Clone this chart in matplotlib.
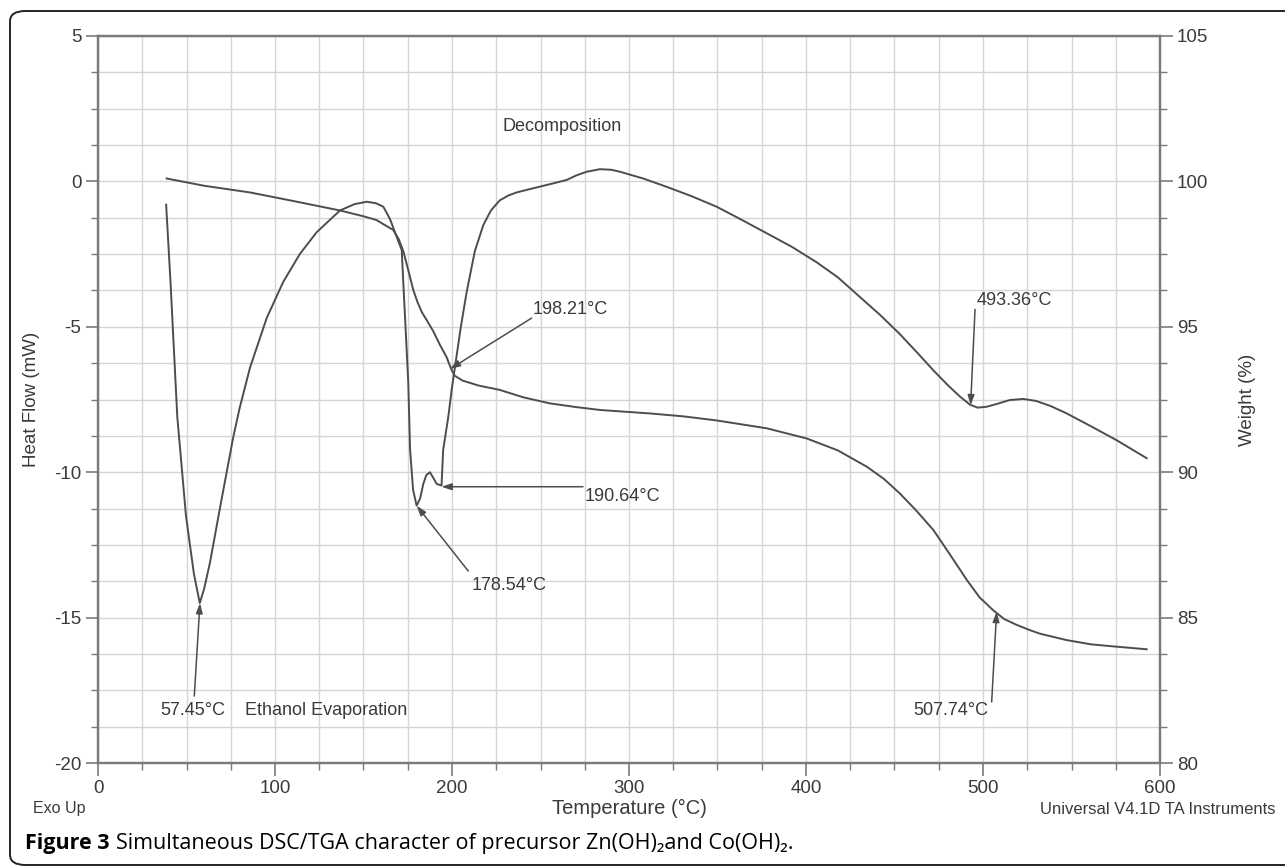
import matplotlib
matplotlib.use("Agg")
import matplotlib.pyplot as plt
from matplotlib.patches import FancyBboxPatch
from matplotlib.ticker import MultipleLocator

plt.rcParams['font.family'] = ['Liberation Sans', 'DejaVu Sans']
plt.rcParams['axes.unicode_minus'] = False

# DSC heat flow curve (mW) vs temperature (°C)
dsc_temp = [38.5, 41.0, 44.8, 49.7, 54.2, 57.5, 60, 63.3, 66, 69, 72.7, 76.4, 80,
            85.9, 95.3, 104.7, 114, 123.5, 136.7, 145, 151.8, 157, 161.2, 165, 168.7,
            171.6, 172.5, 174.4, 175.3, 176.3, 178, 180, 182, 183.8, 185.5, 187.5,
            189.5, 191.3, 194.1, 195, 197.9, 199.8, 201.7, 205, 208.3, 212.9, 217.7,
            222, 227, 232, 236.5, 243, 249.7, 257, 264.8, 270, 276, 283.6, 290, 295,
            308, 321, 335, 349.5, 363, 377.7, 392, 406, 418, 430, 442, 453, 463, 472,
            480, 487, 492.7, 497, 502, 508, 515, 522.8, 530, 538, 547, 561, 575.5, 592.5]
dsc_flow = [-0.8, -3.5, -8.1, -11.5, -13.5, -14.5, -14.0, -13.1, -12.2, -11.2, -10.0, -8.8, -7.8,
            -6.4, -4.7, -3.45, -2.5, -1.75, -1.0, -0.78, -0.7, -0.75, -0.87, -1.3, -1.9,
            -2.36, -3.5, -5.8, -6.94, -9.2, -10.6, -11.15, -10.9, -10.4, -10.1, -10.0,
            -10.2, -10.4, -10.46, -9.24, -8.1, -7.17, -6.37, -5.0, -3.8, -2.4, -1.5,
            -1.0, -0.65, -0.48, -0.38, -0.28, -0.18, -0.07, 0.05, 0.2, 0.33, 0.42, 0.4, 0.33,
            0.1, -0.18, -0.5, -0.87, -1.3, -1.78, -2.25, -2.78, -3.3, -3.95, -4.6, -5.25, -5.9, -6.5,
            -7.0, -7.4, -7.68, -7.78, -7.75, -7.65, -7.52, -7.48, -7.55, -7.72, -7.97, -8.42, -8.9, -9.52]

# TGA weight curve (%) vs temperature (°C)
tga_temp = [38.8, 60, 85.9, 110, 136.7, 150, 157.4, 162, 166.8, 170, 172.5, 175.5, 178.2,
            180.5, 183, 186, 189.4, 193, 197, 199.5, 201.5, 206, 215, 227, 240, 255, 270,
            283.6, 311.9, 330.7, 349.5, 377.8, 400.4, 418, 434.3, 444, 453, 462, 472, 481, 490.8,
            498, 505.8, 512, 519, 526, 532, 547, 561, 575.5, 592.5]
tga_weight = [100.1, 99.85, 99.62, 99.33, 99.0, 98.8, 98.67, 98.5, 98.33, 98.0, 97.6, 96.9, 96.25,
              95.85, 95.5, 95.2, 94.85, 94.4, 93.95, 93.55, 93.32, 93.15, 92.98, 92.83, 92.58, 92.37,
              92.24, 92.14, 92.02, 91.92, 91.78, 91.51, 91.16, 90.75, 90.19, 89.77, 89.27, 88.7, 88.01,
              87.2, 86.3, 85.7, 85.25, 84.95, 84.75, 84.58, 84.45, 84.23, 84.08, 84.0, 83.91]

# peak annotations: label, arrow tip (x, heat flow), arrow tail, text position
ann_labels = ['57.45°C', '178.54°C', '190.64°C', '198.21°C', '493.36°C', '507.74°C']
ann_tip = [(57.6, -14.5), (180, -11.15), (194, -10.5), (198.9, -6.45), (493, -7.7), (507.7, -14.8)]
ann_tail = [(54.4, -17.7), (209.2, -13.4), (274, -10.5), (245, -4.7), (495.5, -4.4), (504.9, -17.9)]
ann_text = [(35, -18.2), (211, -13.9), (275, -10.85), (245.8, -4.42), (496.4, -4.1), (460.6, -18.2)]

line_col = '#4d4d4d'
grid_col = '#d5d5d5'
axis_col = '#7a7a7a'
text_col = '#3a3a3a'

fig = plt.figure(figsize=(12.85, 8.68), dpi=100)
ax = fig.add_axes([98 / 1285, 1 - 763 / 868, 1062 / 1285, 727 / 868])
ax2 = ax.twinx()

ax.plot(dsc_temp, dsc_flow, color=line_col, lw=1.4)
ax2.plot(tga_temp, tga_weight, color=line_col, lw=1.4)

ax.set_xlim(0, 600)
ax.set_ylim(-20, 5)
ax2.set_ylim(80, 105)

ax.xaxis.set_major_locator(MultipleLocator(100))
ax.xaxis.set_minor_locator(MultipleLocator(25))
ax.yaxis.set_major_locator(MultipleLocator(5))
ax.yaxis.set_minor_locator(MultipleLocator(1.25))
ax2.yaxis.set_major_locator(MultipleLocator(5))
ax2.yaxis.set_minor_locator(MultipleLocator(1.25))

ax.grid(True, which='both', color=grid_col, lw=1.0)
ax.set_axisbelow(True)

for a in (ax, ax2):
    for s in a.spines.values():
        s.set_color(axis_col)
        s.set_linewidth(1.6)
    a.tick_params(which='major', length=9, width=1.2, color=axis_col,
                  labelsize=13.5, labelcolor=text_col, pad=3)
    a.tick_params(which='minor', length=5, width=1.0, color=axis_col)

ax.set_ylabel('Heat Flow (mW)', fontsize=13.5, color=text_col)
ax.yaxis.set_label_coords(-0.055, 0.5)
ax2.set_ylabel('Weight (%)', fontsize=13.5, color=text_col, rotation=90, va='center')
ax2.yaxis.set_label_coords(1.082, 0.5)
ax.set_xlabel('Temperature (°C)', fontsize=14.5, color=text_col)
ax.xaxis.set_label_coords(0.5, -0.05)

for lab, tip, tail, pos in zip(ann_labels, ann_tip, ann_tail, ann_text):
    ax.annotate('', xy=tip, xytext=tail,
                arrowprops=dict(arrowstyle='-|>,head_length=0.6,head_width=0.2',
                                color=line_col, lw=1.1, shrinkA=0, shrinkB=0))
    ax.text(pos[0], pos[1], lab, fontsize=13, color=text_col, va='center', ha='left')

ax.text(83, -18.2, 'Ethanol Evaporation', fontsize=13, color=text_col, va='center')
ax.text(228.8, 1.9, 'Decomposition', fontsize=13, color=text_col, va='center')

fig.text(33 / 1285, 1 - 808 / 868, 'Exo Up', fontsize=11.5, color=text_col, va='center')
fig.text(1275 / 1285, 1 - 810 / 868, 'Universal V4.1D TA Instruments', fontsize=12,
         color=text_col, va='center', ha='right')

# rounded frame round the figure
frame = FancyBboxPatch((10 / 1285, 3 / 868), 1.2, 1 - 14 / 868, transform=fig.transFigure,
                       boxstyle='round,pad=0,rounding_size=0.012', fill=False,
                       ec='#222222', lw=1.4)
fig.patches.append(frame)

cap_y = 1 - 843 / 868
cap_font = ['Open Sans', 'DejaVu Sans']
t1 = fig.text(25 / 1285, cap_y, 'Figure 3', fontsize=15.5, fontweight='bold',
              family=cap_font, va='center')
fig.canvas.draw()
bb = t1.get_window_extent()
fig.text(bb.x1 / 1285 + 6 / 1285, cap_y,
         'Simultaneous DSC/TGA character of precursor Zn(OH)₂and Co(OH)₂.',
         fontsize=15.5, family=cap_font, va='center')

fig.savefig('out.png', dpi=100)
